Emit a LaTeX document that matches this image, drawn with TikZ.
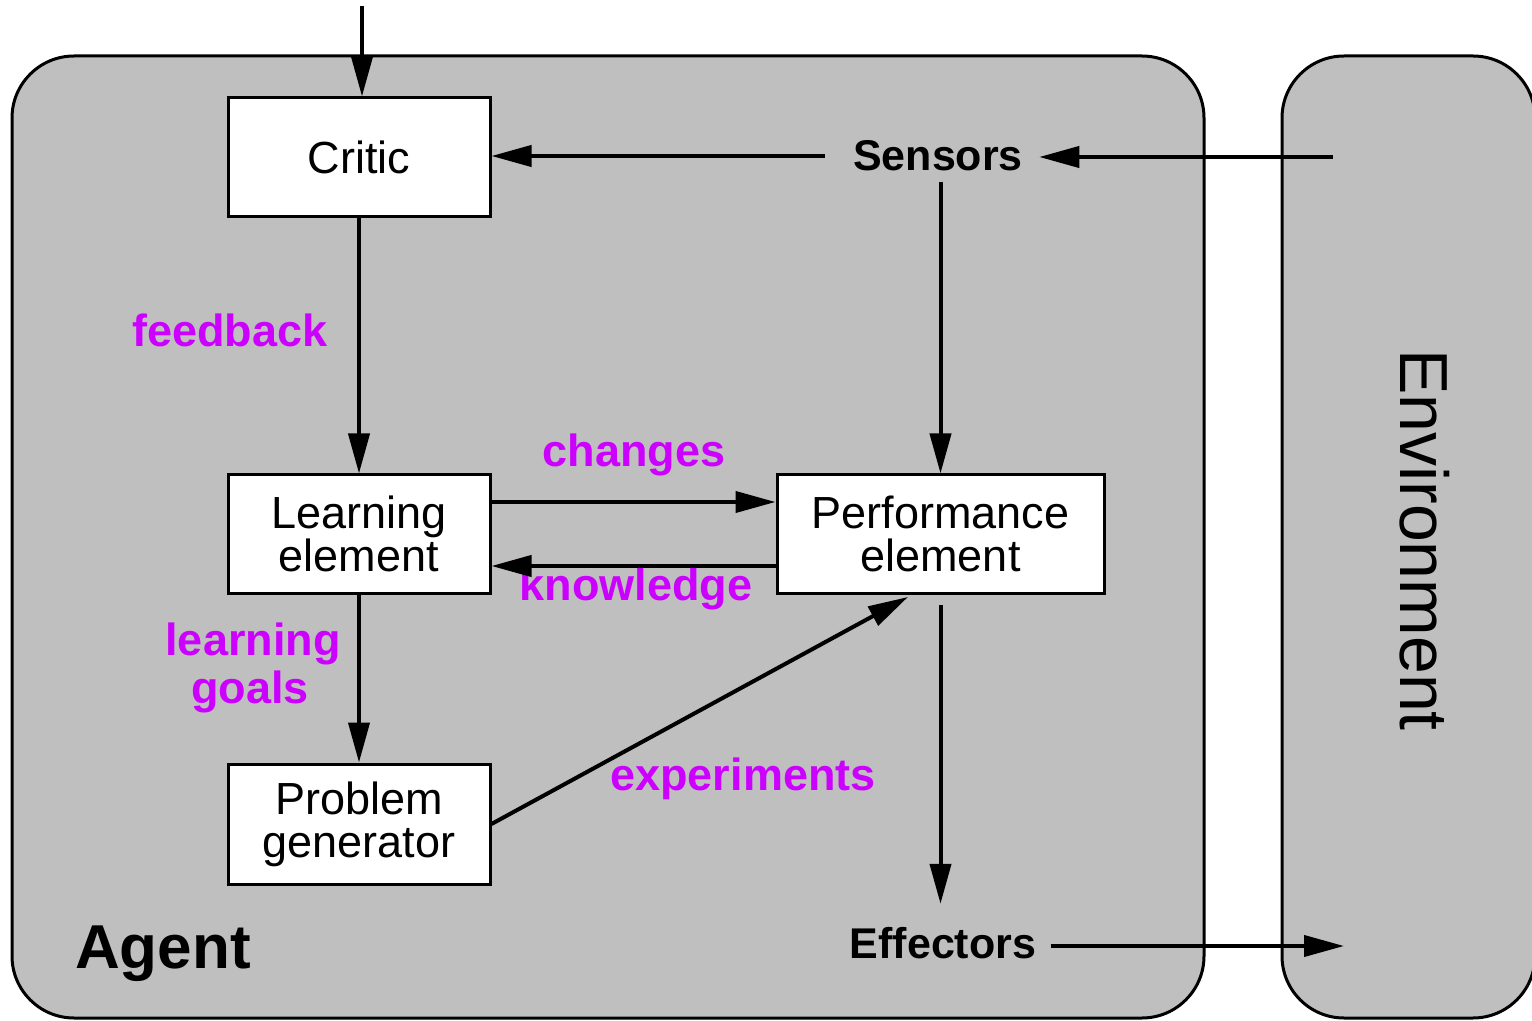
\documentclass[tikz,border=0pt]{standalone}
\usepackage{fontspec}
\setmainfont{Liberation Sans}
\usetikzlibrary{arrows.meta}
\definecolor{bggray}{RGB}{191,191,191}
\definecolor{labmag}{RGB}{204,0,255}
\begin{document}
\begin{tikzpicture}[x=0.5pt,y=-0.5pt,
  box/.style={draw=black,line width=1.5pt,fill=white,inner sep=0pt,align=center,font=\fontsize{22.5}{21.5}\selectfont},
  arr/.style={line width=2pt,-{Triangle[length=20pt,width=10.5pt]}},
  lbl/.style={text=labmag,font=\fontsize{22.5}{24}\selectfont\bfseries,inner sep=0pt,anchor=base},
  io/.style={font=\fontsize{21.5}{24}\selectfont\bfseries,inner sep=0pt},
  region/.style={fill=bggray,draw=black,line width=1.5pt,rounded corners=31pt}]
\useasboundingbox (0,0) rectangle (1532,1021);
% regions
\begin{scope}
\clip (0,0) rectangle (1532,1021);
\draw[region] (12,56) rectangle (1204,1018);
\draw[region] (1282,56) rectangle (1535,1018);
\end{scope}
% boxes
\node[box,minimum width=131pt,minimum height=59.5pt] (critic) at (359,157.5) {Critic};
\node[box,minimum width=131pt,minimum height=59pt] (learn) at (359,534) {Learning\\element};
\node[box,minimum width=131pt,minimum height=60pt] (pg) at (359,824) {Problem\\generator};
\node[box,minimum width=163.5pt,minimum height=59pt] (perf) at (940.5,534) {Performance\\element};
% plain texts
\node[io] (sens) at (938,156) {Sensors};
\node[io] (eff) at (943,943) {Effectors};
\node[font=\fontsize{31}{34}\selectfont\bfseries,inner sep=0pt,anchor=base] (agent) at (163,968) {Agent};
\node[font=\fontsize{34}{36}\selectfont,rotate=-90,inner sep=0pt] (env) at (1425,540) {Environment};
% magenta labels
\node[lbl] (fb) at (230,347) {feedback};
\node[lbl] (ch) at (634,467) {changes};
\node[lbl] (kn) at (636,600) {knowledge};
\node[lbl] (lg1) at (253,655) {learning};
\node[lbl] (lg2) at (250,703) {goals};
\node[lbl] (ex) at (743,790) {experiments};
% free ends
\coordinate (top) at (362,6);
\coordinate (envS) at (1333,157);
\coordinate (envE) at (1344,946);
\coordinate (extip) at (908,597);
% connectors
\draw[arr] (top) -- (top |- critic.north);
\draw[arr,shorten <=14pt] (sens.west) -- (sens.west -| critic.east);
\draw[arr,shorten >=8pt] (envS) -- (envS -| sens.east);
\draw[arr,shorten <=5pt] (sens.south -| perf.north) -- (perf.north);
\draw[arr] (critic.south) -- (learn.north);
\draw[arr] ([yshift=16pt]learn.east) -- ([yshift=16pt]learn.east -| perf.west);
\draw[arr] ([yshift=-16pt]perf.west) -- ([yshift=-16pt]perf.west -| learn.east);
\draw[arr] (learn.south) -- (pg.north);
\draw[arr] (pg.east) -- (extip);
\draw[arr,shorten <=5pt,shorten >=11.5pt] (perf.south) -- (perf.south |- eff.north);
\draw[arr,shorten <=7pt] (eff.east |- envE) -- (envE);
\end{tikzpicture}
\end{document}
